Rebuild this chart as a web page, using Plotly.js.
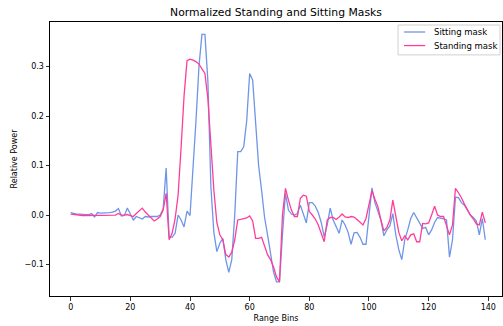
<!DOCTYPE html>
<html>
<head>
<meta charset="utf-8">
<script src="https://cdn.plot.ly/plotly-3.0.1.min.js"></script>
<style>html,body{margin:0;padding:0;background:#fff;}#chart{width:503px;height:326px;}</style>
</head>
<body>
<div id="chart"></div>
<script>
const sitting = [
 0.005, 0.003, 0.002, 0.002, 0.001, 0.001, 0.001, 0.003, -0.004, 0.005,
 0.004, 0.004, 0.004, 0.005, 0.006, 0.008, 0.013, -0.002, -0.001, 0.014,
 0.002, -0.010, -0.003, -0.005, -0.008, -0.003, -0.004, -0.003, -0.003, -0.003,
 0.000, 0.012, 0.095, -0.044, -0.045, -0.037, 0.000, -0.010, -0.024, 0.008,
 -0.001, 0.090, 0.190, 0.300, 0.365, 0.365, 0.270, 0.057, -0.035, -0.074,
 -0.057, -0.047, -0.090, -0.116, -0.090, 0.000, 0.128, 0.128, 0.138, 0.190,
 0.286, 0.273, 0.180, 0.100, 0.050, -0.005, -0.040, -0.077, -0.115, -0.135,
 -0.135, -0.040, 0.044, 0.010, 0.002, 0.000, 0.003, 0.020, 0.000, -0.016,
 0.025, 0.025, 0.018, 0.005, -0.015, -0.044, -0.020, 0.014, -0.010, -0.025,
 -0.037, -0.010, -0.020, -0.035, -0.059, -0.036, -0.035, -0.045, -0.059, -0.059,
 0.000, 0.055, 0.025, 0.005, -0.010, -0.042, -0.030, -0.022, 0.003, -0.040,
 -0.070, -0.090, -0.050, -0.030, -0.007, 0.005, -0.005, -0.015, -0.027, -0.025,
 -0.040, -0.030, -0.015, -0.005, -0.006, -0.008, -0.010, -0.085, -0.050, 0.036,
 0.035, 0.025, 0.020, 0.010, 0.000, -0.005, -0.012, -0.040, -0.007, -0.050
];
const standing = [
 0.002, 0.001, 0.000, 0.000, -0.001, -0.001, -0.001, -0.001, -0.001, -0.001,
 -0.001, -0.001, -0.001, -0.001, -0.001, 0.000, 0.003, 0.000, 0.000, 0.001,
 -0.001, -0.003, 0.003, 0.008, 0.014, 0.006, 0.000, -0.006, -0.012, -0.008,
 -0.003, 0.010, 0.044, -0.050, -0.037, -0.008, 0.040, 0.135, 0.240, 0.312,
 0.315, 0.313, 0.310, 0.305, 0.295, 0.286, 0.235, 0.140, 0.050, -0.015,
 -0.040, -0.050, -0.080, -0.085, -0.075, -0.050, -0.010, -0.009, -0.008, -0.006,
 -0.002, -0.012, -0.047, -0.047, -0.045, -0.062, -0.080, -0.090, -0.105, -0.125,
 -0.135, 0.000, 0.054, 0.030, 0.010, -0.003, -0.003, 0.034, 0.040, 0.038,
 0.007, 0.000, -0.008, -0.020, -0.035, -0.054, -0.010, -0.005, -0.005, -0.009,
 -0.004, 0.002, -0.004, -0.005, -0.003, -0.004, -0.009, -0.015, -0.020, -0.007,
 0.020, 0.049, 0.032, 0.017, -0.010, -0.032, -0.025, -0.010, 0.030, -0.005,
 -0.035, -0.052, -0.042, -0.050, -0.040, -0.038, -0.054, -0.054, -0.017, -0.018,
 -0.016, 0.000, 0.018, 0.000, -0.003, -0.003, -0.020, -0.040, -0.020, 0.054,
 0.045, 0.035, 0.022, 0.010, 0.000, -0.008, -0.018, -0.020, 0.006, -0.016
];
const bins = sitting.map((_, i) => i);
const seriesNames = ["Sitting mask", "Standing mask"];
const seriesColors = ["#6f95e8", "#ff3d99"];
const xTicks = [0, 20, 40, 60, 80, 100, 120, 140];
const yTicks = [-0.1, 0.0, 0.1, 0.2, 0.3];

const font = "DejaVu Sans, sans-serif";
const traces = [sitting, standing].map((vals, k) => ({
  x: bins, y: vals, type: "scatter", mode: "lines", name: seriesNames[k],
  line: {color: seriesColors[k], width: 1.3}, showlegend: false
}));
const axisCommon = {
  showgrid: false, zeroline: false, showline: true, mirror: true,
  linecolor: "#000", linewidth: 1, ticks: "outside", ticklen: 3.5,
  tickcolor: "#000", tickwidth: 0.8, tickfont: {family: font, size: 8, color: "#000"}
};

// legend drawn as a boxed key in paper coordinates (matplotlib style)
const legX0 = 0.770, legX1 = 0.9956, legY0 = 0.880, legY1 = 0.989;
const keyX0 = 0.783, keyX1 = 0.830, textX = 0.845;
const rowY = [0.9635, 0.914];
const shapes = [{type: "rect", xref: "paper", yref: "paper", x0: legX0, x1: legX1, y0: legY0, y1: legY1,
                 line: {color: "#d0d0d0", width: 1}, fillcolor: "rgba(255,255,255,0.85)", layer: "above"}];
const annotations = [];
seriesNames.forEach((nm, k) => {
  shapes.push({type: "line", xref: "paper", yref: "paper", x0: keyX0, x1: keyX1, y0: rowY[k], y1: rowY[k],
               line: {color: seriesColors[k], width: 1.3}, layer: "above"});
  annotations.push({xref: "paper", yref: "paper", x: textX, y: rowY[k], xanchor: "left", yanchor: "middle",
                    text: nm, showarrow: false, font: {family: font, size: 8.5, color: "#000"}});
});

const layout = {
  width: 503, height: 326,
  margin: {l: 50, r: 1, t: 22, b: 30},
  paper_bgcolor: "#fff", plot_bgcolor: "#fff",
  title: {text: "Normalized Standing and Sitting Masks", font: {family: font, size: 10.8, color: "#000"},
          x: 0.5, xanchor: "center", xref: "paper", y: 1, yref: "paper", yanchor: "bottom", pad: {b: 6}},
  xaxis: Object.assign({}, axisCommon, {range: [-6.94, 144.6], tickvals: xTicks,
          title: {text: "Range Bins", font: {family: font, size: 8, color: "#000"}, standoff: 4}}),
  yaxis: Object.assign({}, axisCommon, {range: [-0.1636, 0.39], tickvals: yTicks, tickformat: ".1f",
          title: {text: "Relative Power", font: {family: font, size: 8, color: "#000"}, standoff: 5}}),
  showlegend: false,
  shapes: shapes,
  annotations: annotations
};
Plotly.newPlot("chart", traces, layout, {staticPlot: true, displayModeBar: false});
</script>
</body>
</html>
